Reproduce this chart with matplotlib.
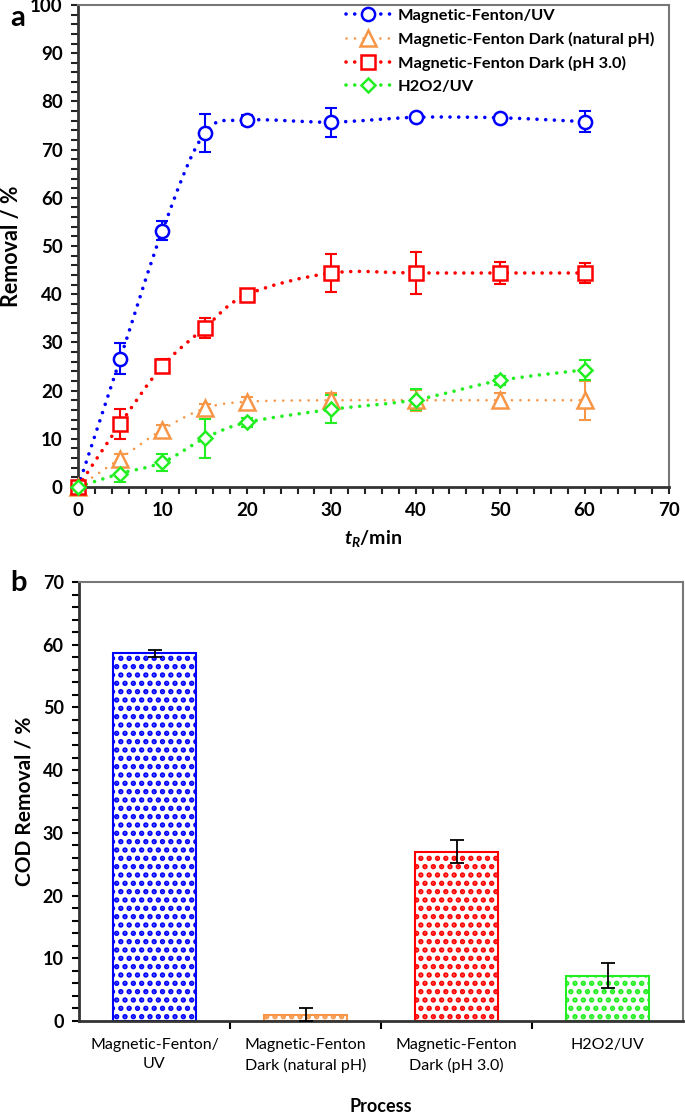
import numpy as np
import matplotlib
matplotlib.use("Agg")
import matplotlib.pyplot as plt
from matplotlib.path import Path
from matplotlib.patches import PathPatch
from matplotlib.lines import Line2D
from matplotlib.ticker import MultipleLocator, FixedLocator

plt.rcParams['font.family'] = ['Lato', 'DejaVu Sans']
plt.rcParams['mathtext.fontset'] = 'custom'
plt.rcParams['mathtext.it'] = 'Lato:italic:bold'
plt.rcParams['mathtext.rm'] = 'Lato:bold'
plt.rcParams['mathtext.bf'] = 'Lato:bold'
plt.rcParams['hatch.linewidth'] = 2.6

# ---------------- data (panel a) ----------------
time_min = [0, 5, 10, 15, 20, 30, 40, 50, 60]

series_names = ["Magnetic-Fenton/UV",
                "Magnetic-Fenton Dark (natural pH)",
                "Magnetic-Fenton Dark (pH 3.0)",
                "H2O2/UV"]

mf_uv = [0, 26.6, 53.2, 73.4, 76.1, 75.7, 76.7, 76.6, 75.8]
mf_uv_err = [0.5, 3.2, 2.0, 4.0, 1.0, 3.0, 0.5, 0.6, 2.2]

mf_dark_nat = [0, 5.9, 11.9, 16.3, 17.7, 18.0, 18.0, 18.0, 18.0]
mf_dark_nat_err = [0.3, 1.0, 1.0, 1.0, 1.0, 1.5, 2.2, 1.5, 4.0]

mf_dark_ph3 = [0, 13.1, 25.1, 33.0, 39.9, 44.4, 44.4, 44.4, 44.4]
mf_dark_ph3_err = [0.5, 3.1, 1.5, 2.0, 1.0, 4.0, 4.4, 2.2, 2.1]

h2o2_uv = [0, 2.8, 5.1, 10.1, 13.4, 16.1, 18.1, 22.1, 24.3]
h2o2_uv_err = [0.3, 1.7, 1.8, 4.0, 1.0, 2.9, 2.2, 1.0, 2.0]

# ---------------- data (panel b) ----------------
processes = ["Magnetic-Fenton/\nUV", "Magnetic-Fenton\nDark (natural pH)",
             "Magnetic-Fenton\nDark (pH 3.0)", "H2O2/UV"]
cod_removal = [58.6, 1.0, 27.0, 7.25]
cod_err = [0.55, 1.0, 1.8, 1.95]

colors = ['#0000FF', '#F79646', '#FF0000', '#22EE22']
markers = ['o', '^', 's', 'D']
msizes = [9.5, 11, 9.5, 7]
line_w = [2.6, 1.9, 2.6, 2.6]
dash_gap = [2.4, 3.2, 2.4, 2.4]


def smooth_path(x, y):
    """Excel-like smoothed line as cubic Bezier segments through the data points."""
    x = np.asarray(x, float)
    y = np.asarray(y, float)
    n = len(x)
    verts = [(x[0], y[0])]
    codes = [Path.MOVETO]
    for i in range(n - 1):
        i0 = max(i - 1, 0)
        i3 = min(i + 2, n - 1)
        c1 = (x[i] + (x[i + 1] - x[i0]) / 6.0, y[i] + (y[i + 1] - y[i0]) / 6.0)
        c2 = (x[i + 1] - (x[i3] - x[i]) / 6.0, y[i + 1] - (y[i3] - y[i]) / 6.0)
        verts += [c1, c2, (x[i + 1], y[i + 1])]
        codes += [Path.CURVE4] * 3
    return Path(verts, codes)


fig = plt.figure(figsize=(6.85, 11.18), dpi=100)
W, H = 685.0, 1118.0

# ---------------- panel a ----------------
axa = fig.add_axes([78 / W, 1 - 487 / H, (669 - 78) / W, (487 - 5) / H])
series = [(mf_uv, mf_uv_err), (mf_dark_nat, mf_dark_nat_err),
          (mf_dark_ph3, mf_dark_ph3_err), (h2o2_uv, h2o2_uv_err)]
handles = []
for k, (vals, errs) in enumerate(series):
    c = colors[k]
    ls = (0, (0.01, dash_gap[k]))
    patch = PathPatch(smooth_path(time_min, vals), facecolor='none', edgecolor=c,
                      lw=line_w[k], linestyle=ls, capstyle='round', zorder=2)
    axa.add_patch(patch)
    axa.errorbar(time_min, vals, yerr=errs, fmt='none', ecolor=c, elinewidth=1.5,
                 capsize=4, capthick=1.5, zorder=3)
    axa.plot(time_min, vals, linestyle='none', marker=markers[k], ms=msizes[k],
             mfc='white', mec=c, mew=1.8, zorder=4, clip_on=False)
    handles.append(Line2D([], [], color=c, lw=line_w[k], linestyle=ls,
                          dash_capstyle='round', marker=markers[k], ms=msizes[k],
                          mfc='white', mec=c, mew=1.8))

axa.set_xlim(0, 70)
axa.set_ylim(0, 100)
axa.xaxis.set_major_locator(MultipleLocator(10))
axa.xaxis.set_minor_locator(MultipleLocator(2))
axa.yaxis.set_major_locator(MultipleLocator(10))
axa.yaxis.set_minor_locator(MultipleLocator(2))
axa.tick_params(which='both', direction='out', length=5, width=1.5, color='#222222')
axa.tick_params(which='major', labelsize=13.5, pad=6)
for lab in axa.get_xticklabels() + axa.get_yticklabels():
    lab.set_fontweight('bold')
for s in axa.spines.values():
    s.set_linewidth(2.0)
    s.set_color('#333333')
axa.spines['top'].set_color('#777777')
axa.spines['right'].set_color('#777777')
axa.spines['top'].set_linewidth(1.5)
axa.spines['right'].set_linewidth(1.5)
axa.set_xlabel(r'$t_R$/min', fontsize=14, fontweight='bold', labelpad=6)
axa.set_ylabel('Removal / %', fontsize=15.5, fontweight='bold', labelpad=6)
leg = axa.legend(handles, series_names, loc='upper left',
                 bbox_to_anchor=(0.450, 0.997), frameon=False, handlelength=2.7,
                 handletextpad=0.5, labelspacing=0.55, borderaxespad=0.0,
                 borderpad=0.1, prop={'weight': 'bold', 'size': 11.8})
fig.text(10 / W, 1 - 18 / H, 'a', fontsize=21, fontweight='bold', va='center')

# ---------------- panel b ----------------
axb = fig.add_axes([79 / W, 1 - 1021 / H, (683 - 79) / W, (1021 - 582) / H])
xpos = np.arange(len(processes))
for k in range(len(processes)):
    axb.bar(xpos[k], cod_removal[k], width=0.55, facecolor='white',
            edgecolor=colors[k], linewidth=1.5, hatch='..', zorder=2)
axb.errorbar(xpos, cod_removal, yerr=cod_err, fmt='none', ecolor='black',
             elinewidth=1.3, capsize=5, capthick=1.3, zorder=3)
axb.set_xlim(-0.5, len(processes) - 0.5)
axb.set_ylim(0, 70)
axb.yaxis.set_major_locator(MultipleLocator(10))
axb.yaxis.set_minor_locator(MultipleLocator(2))
axb.xaxis.set_major_locator(FixedLocator(xpos))
axb.xaxis.set_minor_locator(FixedLocator(xpos[:-1] + 0.5))
axb.set_xticks(xpos)
axb.set_xticklabels(processes, fontsize=11.5, linespacing=1.5)
axb.tick_params(axis='x', which='major', length=0, pad=12)
axb.tick_params(axis='x', which='minor', length=6, width=1.5, direction='out')
axb.tick_params(axis='y', which='both', direction='out', length=5, width=1.5)
axb.tick_params(axis='y', which='major', labelsize=13, pad=6)
for lab in axb.get_yticklabels():
    lab.set_fontweight('bold')
for s in axb.spines.values():
    s.set_linewidth(2.0)
    s.set_color('#333333')
axb.spines['top'].set_color('#777777')
axb.spines['right'].set_color('#777777')
axb.spines['top'].set_linewidth(1.5)
axb.spines['right'].set_linewidth(1.5)
axb.set_xlabel('Process', fontsize=13, fontweight='bold', labelpad=18)
axb.set_ylabel('COD Removal / %', fontsize=15, fontweight='bold', labelpad=6)
fig.text(10 / W, 1 - 583 / H, 'b', fontsize=21, fontweight='bold', va='center')

fig.savefig('out.png', dpi=100)
